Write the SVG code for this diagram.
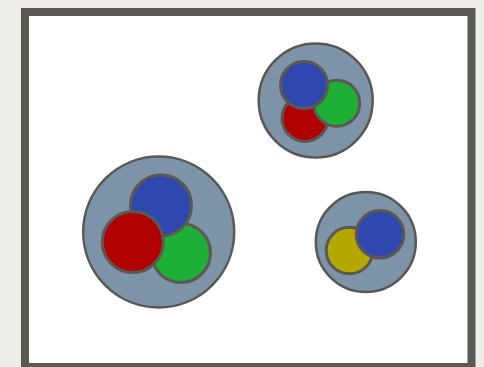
<svg xmlns="http://www.w3.org/2000/svg" width="484" height="367" viewBox="0 0 484 367">
<style>
.bg{fill:#efede8}
.frame{fill:#ffffff;stroke:#5b5853;stroke-width:8}
.outer{fill:#7c93a8;stroke:#5b5853;stroke-width:2.5}
.in{stroke:#5b5853;stroke-width:3}
.b{fill:#2f48b0}.r{fill:#b00000}.g{fill:#1eb036}.y{fill:#b4a700}
</style>
<rect class="bg" x="0" y="0" width="484" height="367"/>
<rect id="frame" class="frame" x="25" y="12" width="446.5" height="355"/>
<g id="group-large">
<circle class="outer" cx="158.7" cy="232" r="75.5"/>
<circle class="in g" cx="181" cy="253" r="29.5"/>
<circle class="in b" cx="161" cy="205.5" r="30.5"/>
<circle class="in r" cx="132.8" cy="242" r="30.5"/>
</g>
<g id="group-top">
<circle class="outer" cx="315.7" cy="100.5" r="57"/>
<circle class="in r" cx="305" cy="118.4" r="23"/>
<circle class="in g" cx="336.7" cy="103.3" r="23"/>
<circle class="in b" cx="304" cy="85" r="23.5"/>
</g>
<g id="group-right">
<circle class="outer" cx="365.8" cy="242" r="50"/>
<circle class="in y" cx="349.5" cy="250.5" r="23.3"/>
<circle class="in b" cx="380" cy="234.3" r="23.8"/>
</g>
<g id="connectors"/>
</svg>
